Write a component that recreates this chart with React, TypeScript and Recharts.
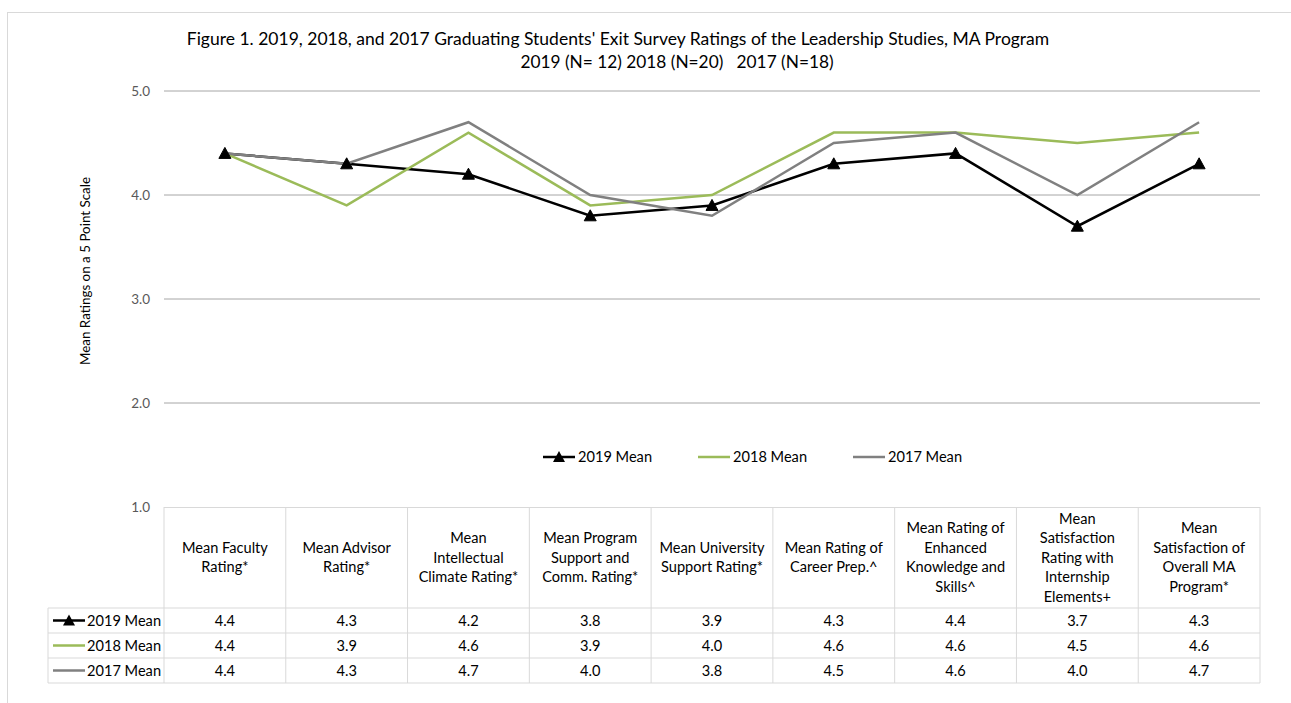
import React from 'react';
import { LineChart, Line, XAxis, YAxis, ReferenceLine } from 'recharts';

const categories: string[][] = [
  ['Mean Faculty', 'Rating*'],
  ['Mean Advisor', 'Rating*'],
  ['Mean', 'Intellectual', 'Climate Rating*'],
  ['Mean Program', 'Support and', 'Comm. Rating*'],
  ['Mean University', 'Support Rating*'],
  ['Mean Rating of', 'Career Prep.^'],
  ['Mean Rating of', 'Enhanced', 'Knowledge and', 'Skills^'],
  ['Mean', 'Satisfaction', 'Rating with', 'Internship', 'Elements+'],
  ['Mean', 'Satisfaction of', 'Overall MA', 'Program*'],
];
const mean2019 = [4.4, 4.3, 4.2, 3.8, 3.9, 4.3, 4.4, 3.7, 4.3];
const mean2018 = [4.4, 3.9, 4.6, 3.9, 4.0, 4.6, 4.6, 4.5, 4.6];
const mean2017 = [4.4, 4.3, 4.7, 4.0, 3.8, 4.5, 4.6, 4.0, 4.7];
const yTicks = [1, 2, 3, 4, 5];
const gridValues = [2, 3, 4, 5];
const seriesNames = ['2019 Mean', '2018 Mean', '2017 Mean'];
const seriesColors = ['#000000', '#9bbb59', '#808080'];
const titleLine1 = "Figure 1. 2019, 2018, and 2017 Graduating Students' Exit Survey Ratings of the Leadership Studies, MA Program";
const titleLine2 = '2019 (N= 12) 2018 (N=20)   2017 (N=18)';
const yAxisTitle = 'Mean Ratings on a 5 Point Scale';

const data = categories.map((c, i) => ({
  cat: c.join(' '),
  m2019: mean2019[i],
  m2018: mean2018[i],
  m2017: mean2017[i],
}));
const seriesValues = [mean2019, mean2018, mean2017];

const W = 1291;
const H = 703;
const PL = 164;
const PR = 1260;
const PT = 91;
const PB = 507;
const colW = (PR - PL) / categories.length;
const FONT = 'Lato, "Open Sans", sans-serif';
const TFS = 14.6;

const Triangle = (props: any) => {
  const { cx, cy } = props;
  if (cx == null || cy == null) return null;
  return <path d={`M${cx},${cy - 6} L${cx + 6},${cy + 5} L${cx - 6},${cy + 5} Z`} fill="#000" stroke="#000" strokeWidth={1} />;
};

const Key = ({ x, y, i }: { x: number; y: number; i: number }) => (
  <g>
    <line x1={x} y1={y} x2={x + 32} y2={y} stroke={seriesColors[i]} strokeWidth={2.5} />
    {i === 0 && <path d={`M${x + 16},${y - 6} L${x + 22},${y + 5} L${x + 10},${y + 5} Z`} fill="#000" />}
  </g>
);

const Overlay = () => {
  const hdrTop = PB;
  const hdrBot = 608;
  const rowH = 25;
  const lineH = 19.5;
  const border = '#d9d9d9';
  return (
    <svg width={W} height={H} style={{ position: 'absolute', left: 0, top: 0, pointerEvents: 'none' }} fontFamily={FONT}>
      <rect x={7.5} y={12.5} width={1400} height={800} fill="none" stroke={border} />
      <text x={618} y={45} textAnchor="middle" fontSize={17.5} fill="#000">{titleLine1}</text>
      <text x={677} y={68} textAnchor="middle" fontSize={17.3} fill="#000" style={{ whiteSpace: 'pre' }}>{titleLine2}</text>
      <text transform="translate(90,271) rotate(-90)" textAnchor="middle" fontSize={13.4} fill="#000">{yAxisTitle}</text>
      {/* legend */}
      {[543, 698, 853].map((lx, i) => (
        <g key={i}>
          <Key x={lx} y={457} i={i} />
          <text x={lx + 35} y={462} fontSize={TFS} fill="#000">{seriesNames[i]}</text>
        </g>
      ))}
      {/* table */}
      <line x1={PL} y1={hdrTop + 0.5} x2={PR} y2={hdrTop + 0.5} stroke={border} />
      {Array.from({ length: categories.length + 1 }).map((_, i) => (
        <line key={i} x1={PL + i * colW} y1={hdrTop} x2={PL + i * colW} y2={hdrBot + 3 * rowH} stroke={border} />
      ))}
      <line x1={48} y1={hdrBot} x2={48} y2={hdrBot + 3 * rowH} stroke={border} />
      {[0, 1, 2, 3].map((r) => (
        <line key={r} x1={48} y1={hdrBot + r * rowH} x2={PR} y2={hdrBot + r * rowH} stroke={border} />
      ))}
      {categories.map((lines, i) => {
        const cx = PL + (i + 0.5) * colW;
        const mid = (hdrTop + hdrBot) / 2;
        const y0 = mid - ((lines.length - 1) * lineH) / 2;
        return (
          <g key={i}>
            {lines.map((t, k) => (
              <text key={k} x={cx} y={y0 + k * lineH + 5} textAnchor="middle" fontSize={TFS} fill="#000">{t}</text>
            ))}
          </g>
        );
      })}
      {seriesValues.map((vals, r) => {
        const cy = hdrBot + (r + 0.5) * rowH;
        return (
          <g key={r}>
            <Key x={53} y={cy} i={r} />
            <text x={87} y={cy + 5} fontSize={TFS} fill="#000">{seriesNames[r]}</text>
            {vals.map((v, i) => (
              <text key={i} x={PL + (i + 0.5) * colW} y={cy + 5} textAnchor="middle" fontSize={TFS} fill="#000">{v.toFixed(1)}</text>
            ))}
          </g>
        );
      })}
    </svg>
  );
};

export default function App() {
  return (
    <div style={{ position: 'absolute', left: 0, top: 0, width: W, height: H, background: '#fff', fontFamily: FONT }}>
      <LineChart width={W} height={H} data={data} margin={{ top: PT, right: W - PR, bottom: H - PB, left: 0 }}>
        <XAxis dataKey="cat" hide padding={{ left: colW / 2, right: colW / 2 }} />
        <YAxis
          width={PL}
          domain={[1, 5]}
          ticks={yTicks}
          tickFormatter={(v: number) => v.toFixed(1)}
          axisLine={false}
          tickLine={false}
          tickMargin={8}
          tick={{ fontSize: 13.5, fill: '#595959', fontFamily: FONT }}
          interval={0}
        />
        {gridValues.map((v) => (
          <ReferenceLine key={v} y={v} stroke="#a6a6a6" strokeWidth={1} />
        ))}
        <Line dataKey="m2019" stroke={seriesColors[0]} strokeWidth={2.5} dot={false} isAnimationActive={false} />
        <Line dataKey="m2018" stroke={seriesColors[1]} strokeWidth={2.5} dot={false} isAnimationActive={false} />
        <Line dataKey="m2017" stroke={seriesColors[2]} strokeWidth={2.5} dot={false} isAnimationActive={false} />
        <Line dataKey="m2019" stroke="none" dot={<Triangle />} activeDot={false} isAnimationActive={false} legendType="none" />
      </LineChart>
      <Overlay />
    </div>
  );
}
